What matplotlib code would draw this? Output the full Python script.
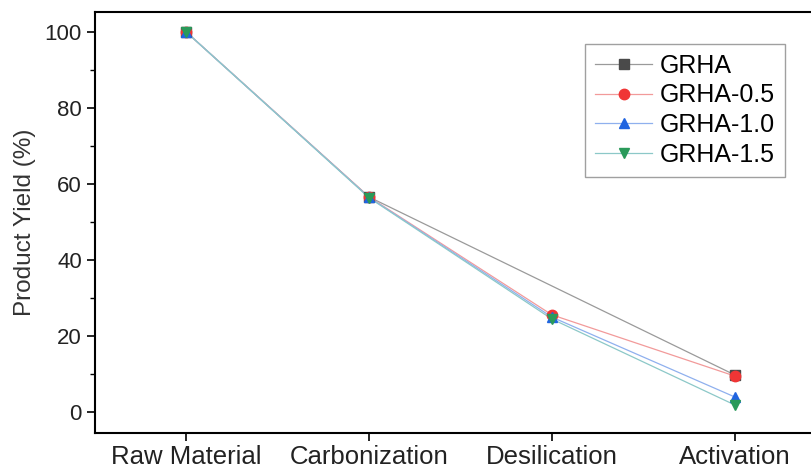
import matplotlib.pyplot as plt
import numpy as np
from matplotlib.ticker import MultipleLocator

plt.rcParams['font.family'] = ['Liberation Sans', 'DejaVu Sans']

stages = ["Raw Material", "Carbonization", "Desilication", "Activation"]
grha = [100, 56.6, np.nan, 9.8]
grha_05 = [100, 56.6, 25.6, 9.5]
grha_10 = [100, 56.5, 25.0, 4.0]
grha_15 = [100, 56.4, 24.5, 1.9]

series = [
    ("GRHA", grha, "#4a4a4a", "#9a9a9a", "s"),
    ("GRHA-0.5", grha_05, "#f03535", "#f29a9a", "o"),
    ("GRHA-1.0", grha_10, "#2064e0", "#8fb0ee", "^"),
    ("GRHA-1.5", grha_15, "#2a9a5a", "#8cc8c8", "v"),
]

fig = plt.figure(figsize=(8.12, 4.70), dpi=100)
# right spine sits outside the picture, as in the reference
ax = fig.add_axes([95 / 812, 37 / 470, 731 / 812, 421 / 470])

x = np.arange(len(stages))
for name, vals, mc, lc, mk in series:
    v = np.array(vals, dtype=float)
    ok = ~np.isnan(v)
    ax.plot(x[ok], v[ok], color=lc, lw=0.9, zorder=2)
    ax.plot(x[ok], v[ok], ls="none", marker=mk, ms=7.5, color=mc, mec=mc, zorder=3)
    ax.plot([], [], color=lc, lw=0.9, marker=mk, ms=7.5, mfc=mc, mec=mc, label=name)

ax.set_xlim(-0.5, 3.5)
ax.set_ylim(-5.5, 105.3)
ax.set_xticks(x)
ax.set_xticklabels(stages, fontsize=18.5, color="#222222")
ax.yaxis.set_major_locator(MultipleLocator(20))
ax.yaxis.set_minor_locator(MultipleLocator(10))
ax.tick_params(axis="both", which="major", direction="out", length=6, width=1.2)
ax.tick_params(axis="y", which="major", labelsize=16, labelcolor="#222222")
ax.tick_params(axis="y", which="minor", direction="out", length=3.5, width=1.0)
ax.tick_params(axis="y", which="both", right=False)
ax.tick_params(axis="x", which="both", top=False, pad=3)
for sp in ax.spines.values():
    sp.set_linewidth(1.5)
ax.set_ylabel("Product Yield (%)", fontsize=17.5, color="#333333", labelpad=6)

leg = ax.legend(loc="upper left", bbox_to_anchor=(490 / 731, 1 - 32 / 421),
                fontsize=18, frameon=True, fancybox=False, edgecolor="#888888",
                handlelength=2.3, labelspacing=0.22, borderpad=0.4, handletextpad=0.3,
                borderaxespad=0)
leg.get_frame().set_linewidth(1.0)

fig.savefig("out.png", dpi=100)
